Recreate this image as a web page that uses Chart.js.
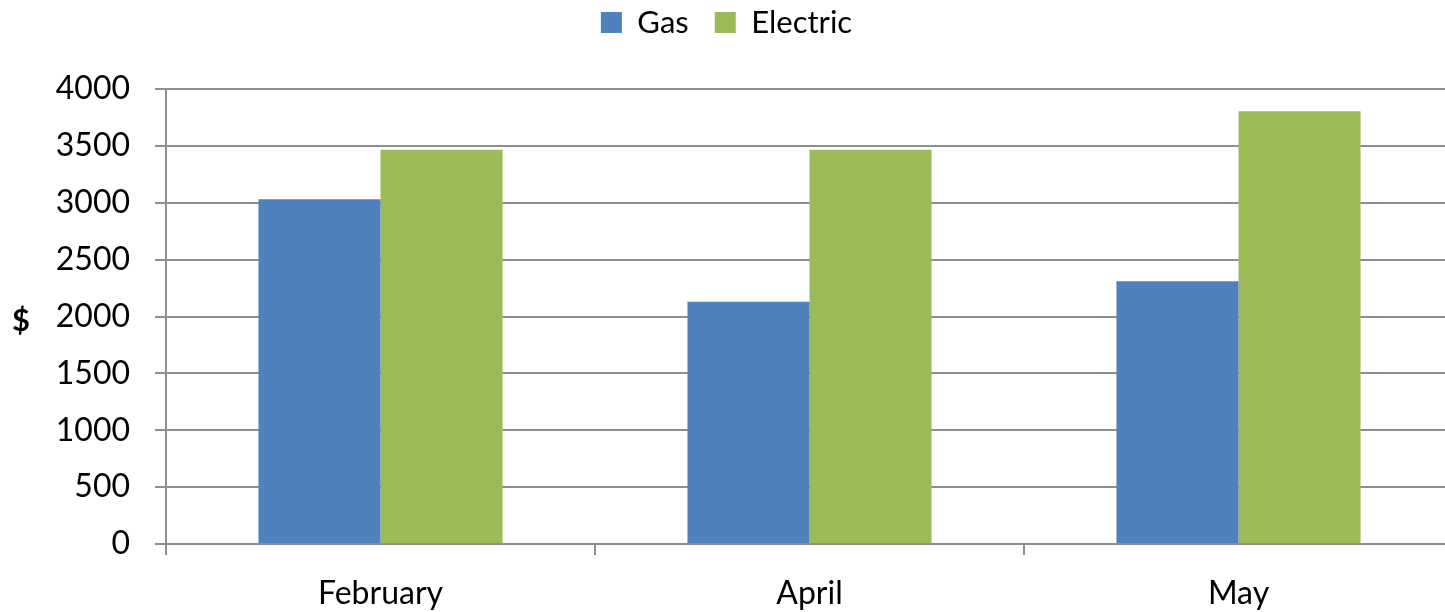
<!DOCTYPE html>
<html>
<head>
<meta charset="utf-8">
<script src="https://cdn.jsdelivr.net/npm/chart.js@4.4.1/dist/chart.umd.min.js"></script>
<style>
  html, body { margin: 0; padding: 0; background: #ffffff; overflow: hidden; }
  #wrap { width: 1445px; height: 612px; overflow: hidden; position: relative; }
  canvas { display: block; }
</style>
</head>
<body>
<div id="wrap"><canvas id="chart" width="1454" height="612"></canvas></div>
<script>
// Monthly utility costs
const months = ['February', 'April', 'May'];
const gasCost = [3030, 2130, 2310];
const electricCost = [3465, 3465, 3805];
const yTicks = [0, 500, 1000, 1500, 2000, 2500, 3000, 3500, 4000];
const yAxisTitle = '$';

const FONT = 'Lato, "Open Sans", "Liberation Sans", sans-serif';
const GRID = '#8e8e8e';

// Draws the y-axis title upright, centred on the plot height
const uprightTitle = {
  id: 'uprightTitle',
  afterDraw(chart) {
    const { ctx, chartArea } = chart;
    ctx.save();
    ctx.font = 'bold 31px ' + FONT;
    ctx.fillStyle = '#000000';
    ctx.textAlign = 'center';
    ctx.textBaseline = 'middle';
    ctx.fillText(yAxisTitle, 21, (chartArea.top + chartArea.bottom) / 2 + 4);
    ctx.restore();
  }
};

// Lifts the legend row closer to the top edge
const legendLift = {
  id: 'legendLift',
  afterUpdate(chart) {
    const lg = chart.legend;
    if (!lg) return;
    const dy = 41;
    lg.top -= dy;
    lg.bottom -= dy;
  }
};

new Chart(document.getElementById('chart'), {
  type: 'bar',
  data: {
    labels: months,
    datasets: [
      { label: 'Gas', data: gasCost, backgroundColor: '#4f81bd',
        borderWidth: 0, categoryPercentage: 0.569, barPercentage: 1.0 },
      { label: 'Electric', data: electricCost, backgroundColor: '#9bbb59',
        borderWidth: 0, categoryPercentage: 0.569, barPercentage: 1.0 }
    ]
  },
  options: {
    responsive: false,
    animation: false,
    devicePixelRatio: 1,
    layout: { padding: { left: 0, right: 1, top: 22, bottom: 0 } },
    plugins: {
      tooltip: { enabled: false },
      legend: {
        position: 'top',
        align: 'center',
        labels: {
          boxWidth: 21,
          boxHeight: 21,
          padding: 26,
          color: '#000000',
          font: { family: FONT, size: 31 }
        }
      }
    },
    scales: {
      x: {
        grid: {
          offset: true,
          drawOnChartArea: false,
          drawTicks: true,
          tickLength: 11,
          color: GRID,
          lineWidth: 2
        },
        border: { display: true, color: GRID, width: 2 },
        ticks: {
          color: '#000000',
          padding: 19,
          font: { family: FONT, size: 32 },
          maxRotation: 0
        },
        afterFit(scale) { scale.height = 68; }
      },
      y: {
        min: 0,
        max: 4000,
        afterBuildTicks(scale) { scale.ticks = yTicks.map(v => ({ value: v })); },
        grid: {
          drawTicks: true,
          tickLength: 11,
          color: GRID,
          lineWidth: 2
        },
        border: { display: true, color: GRID, width: 2 },
        ticks: {
          color: '#000000',
          padding: 25,
          font: { family: FONT, size: 32 },
          callback: (v) => String(v)
        },
        afterFit(scale) { scale.width = 166; }
      }
    }
  },
  plugins: [uprightTitle, legendLift]
});
</script>
</body>
</html>
